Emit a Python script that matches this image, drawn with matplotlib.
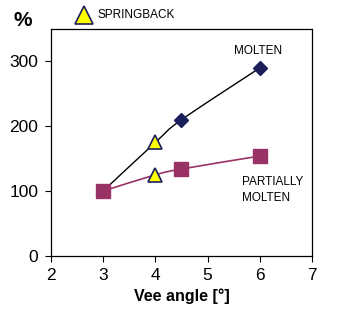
import numpy as np
import matplotlib
matplotlib.use("Agg")
import matplotlib.pyplot as plt
from matplotlib.path import Path
from matplotlib.patches import PathPatch
from matplotlib.lines import Line2D

plt.rcParams['font.family'] = ['Liberation Sans', 'DejaVu Sans']

molten_x = [3, 4.5, 6]
molten_y = [100, 210, 290]
partial_x = [3, 4.5, 6]
partial_y = [100, 134, 154]
spring_x = [4, 4]
spring_y = [175, 125]
curve_molten_x = [3, 4, 4.5, 6]
curve_molten_y = [100, 175, 210, 290]
curve_partial_x = [3, 4, 4.5, 6]
curve_partial_y = [100, 125, 134, 154]

xticks = [2, 3, 4, 5, 6, 7]
yticks = [0, 100, 200, 300]

navy = '#1b1f5c'
purple = '#993366'
yellow = '#ffff00'


def smooth_path(xs, ys):
    pts = np.column_stack([xs, ys]).astype(float)
    verts = [pts[0]]
    codes = [Path.MOVETO]
    n = len(pts)
    for i in range(n - 1):
        p0 = pts[i - 1] if i > 0 else pts[i]
        p1 = pts[i]
        p2 = pts[i + 1]
        p3 = pts[i + 2] if i + 2 < n else pts[i + 1]
        c1 = p1 + (p2 - p0) / 6.0
        c2 = p2 - (p3 - p1) / 6.0
        verts += [c1, c2, p2]
        codes += [Path.CURVE4] * 3
    return Path(verts, codes)


fig = plt.figure(figsize=(3.44, 3.23), dpi=100)
ax = fig.add_axes([0.148, 0.208, 0.759, 0.702])

ax.add_patch(PathPatch(smooth_path(curve_molten_x, curve_molten_y), fill=False,
                       edgecolor='black', lw=1.0, zorder=2))
ax.add_patch(PathPatch(smooth_path(curve_partial_x, curve_partial_y), fill=False,
                       edgecolor=purple, lw=1.2, zorder=2))

ax.plot(molten_x, molten_y, linestyle='none', marker='D', ms=7, color=navy, zorder=3)
ax.plot(partial_x, partial_y, linestyle='none', marker='s', ms=10, color=purple, zorder=3)
ax.plot(spring_x, spring_y, linestyle='none', marker='^', ms=10, mfc=yellow,
        mec=navy, mew=1.2, zorder=4)

ax.set_xlim(2, 7)
ax.set_ylim(0, 350)
ax.set_xticks(xticks)
ax.set_yticks(yticks)
ax.tick_params(direction='out', length=4, width=0.8, labelsize=12.5, pad=5)
for s in ax.spines.values():
    s.set_linewidth(0.9)

ax.set_xlabel('Vee angle [°]', fontsize=11.5, fontweight='bold', labelpad=4)

fig.text(0.04, 0.935, '%', fontsize=15, fontweight='bold', ha='left', va='center')
fig.text(0.282, 0.953, 'SPRINGBACK', fontsize=8.5, ha='left', va='center')
fig.add_artist(Line2D([0.243], [0.953], marker='^', ms=13, mfc=yellow, mec=navy,
                      mew=1.2, linestyle='none', transform=fig.transFigure))

ax.text(5.97, 316, 'MOLTEN', fontsize=8.5, ha='center', va='center')
ax.text(5.65, 114, 'PARTIALLY', fontsize=8.5, ha='left', va='center')
ax.text(5.65, 90, 'MOLTEN', fontsize=8.5, ha='left', va='center')

fig.savefig('out.png', dpi=100)
